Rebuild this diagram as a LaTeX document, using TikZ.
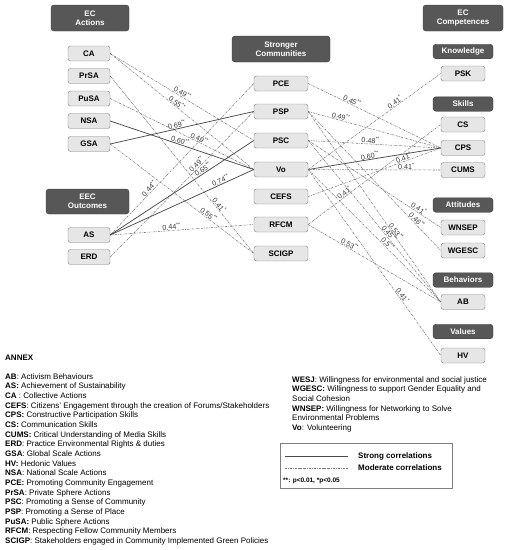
\documentclass[tikz,border=0pt]{standalone}
\usepackage{fontspec}
\setmainfont{Liberation Sans}
\definecolor{hdrfill}{HTML}{575757}
\definecolor{hdrline}{HTML}{3A3A3A}
\definecolor{varfill}{HTML}{E6E6E6}
\definecolor{varline}{HTML}{7F7F7F}
\definecolor{strongc}{HTML}{4A4A4A}
\definecolor{modc}{HTML}{7A7A7A}
\definecolor{lblc}{HTML}{3A3A3A}

\newcommand{\rr}[2]{#1\textsuperscript{#2}}

\tikzset{
  hdr/.style={draw=hdrline, fill=hdrfill, text=white, rounded corners=3pt, align=center,
    font=\fontsize{8}{9.3}\selectfont\bfseries, inner sep=1pt},
  var/.style={draw=varline, fill=varfill, rounded corners=2.5pt, minimum height=15pt,
    font=\fontsize{8}{9}\selectfont\bfseries, inner sep=1pt},
  strong/.style={draw=strongc, line width=0.75pt},
  moderate/.style={draw=modc, line width=0.55pt, dash pattern=on 2.2pt off 1pt on 0.6pt off 1pt},
  corr/.style={font=\fontsize{7.2}{8}\selectfont, text=lblc, sloped, above, inner sep=0.4pt},
}

\begin{document}
\begin{tikzpicture}[x=1pt, y=-1pt]
  \useasboundingbox (0,0) rectangle (508,550);

  % EC actions and EEC outcomes
  \node[hdr, minimum width=78pt, minimum height=26pt] (hdrA) at (90,18) {EC\\Actions};
  \node[var, minimum width=42pt] (CA) at (89,53.5) {CA};
  \node[var, minimum width=42pt] (PrSA) at (89,76) {PrSA};
  \node[var, minimum width=42pt] (PuSA) at (89,98.5) {PuSA};
  \node[var, minimum width=42pt] (NSA) at (89,121) {NSA};
  \node[var, minimum width=42pt] (GSA) at (89,144) {GSA};
  \node[hdr, minimum width=83pt, minimum height=25pt] (hdrB) at (87.5,201.5) {EEC\\Outcomes};
  \node[var, minimum width=42pt] (AS) at (89,235) {AS};
  \node[var, minimum width=42pt] (ERD) at (89,257) {ERD};

  % stronger communities
  \node[hdr, minimum width=98pt, minimum height=26pt] (hdrC) at (281,49) {Stronger\\Communities};
  \node[var, minimum width=54pt] (PCE) at (281,83.5) {PCE};
  \node[var, minimum width=54pt] (PSP) at (281,111.5) {PSP};
  \node[var, minimum width=54pt] (PSC) at (281,140.5) {PSC};
  \node[var, minimum width=54pt] (Vo) at (281,169.5) {Vo};
  \node[var, minimum width=54pt] (CEFS) at (281,196.5) {CEFS};
  \node[var, minimum width=54pt] (RFCM) at (281,224.5) {RFCM};
  \node[var, minimum width=54pt] (SCIGP) at (281,253.5) {SCIGP};

  % EC competences
  \node[hdr, minimum width=80pt, minimum height=26pt] (hdrD) at (463,18) {EC\\Competences};
  \node[hdr, minimum width=60pt, minimum height=14.5pt] (know) at (463,51.5) {Knowledge};
  \node[var, minimum width=44pt] (PSK) at (463,73.5) {PSK};
  \node[hdr, minimum width=60pt, minimum height=14.5pt] (skill) at (463,104) {Skills};
  \node[var, minimum width=44pt] (CS) at (463,124.5) {CS};
  \node[var, minimum width=44pt] (CPS) at (463,148) {CPS};
  \node[var, minimum width=44pt] (CUMS) at (463,170) {CUMS};
  \node[hdr, minimum width=60pt, minimum height=14.5pt] (att) at (463,205) {Attitudes};
  \node[var, minimum width=44pt] (WNSEP) at (463,227.5) {WNSEP};
  \node[var, minimum width=44pt] (WGESC) at (463,250.5) {WGESC};
  \node[hdr, minimum width=60pt, minimum height=14.5pt] (beh) at (463,280) {Behaviors};
  \node[var, minimum width=44pt] (AB) at (463,302) {AB};
  \node[hdr, minimum width=60pt, minimum height=14.5pt] (val) at (463,331.5) {Values};
  \node[var, minimum width=44pt] (HV) at (463,355.5) {HV};

  % left correlations
  \draw[moderate] (CA.east) -- (PSC.west) node[corr, pos=.49]{\rr{0.49}{**}};
  \draw[moderate] (CA.east) -- (Vo.west) node[corr, pos=.45]{\rr{0.55}{**}};
  \draw[moderate] (PrSA.east) -- (SCIGP.west) node[corr, pos=.74]{\rr{0.41}{*}};
  \draw[moderate] (PuSA.east) -- (Vo.west) node[corr, pos=.61]{\rr{0.49}{**}};
  \draw[strong] (NSA.east) -- (Vo.west) node[corr, pos=.48]{\rr{0.60}{**}};
  \draw[strong] (GSA.east) -- (PSP.west) node[corr, pos=.47]{\rr{0.69}{**}};
  \draw[moderate] (GSA.east) -- (SCIGP.west) node[corr, pos=.67]{\rr{0.55}{**}};
  \draw[moderate] (AS.east) -- (PCE.west) node[corr, pos=.29]{\rr{0.44}{**}};
  \draw[strong] (AS.east) -- (PSC.west) node[corr, pos=.66]{\rr{0.65}{**}};
  \draw[strong] (AS.east) -- (Vo.west) node[corr, pos=.78]{\rr{0.74}{**}};
  \draw[moderate] (AS.east) -- (RFCM.west) node[corr, pos=.43]{\rr{0.44}{**}};
  \draw[moderate] (ERD.east) -- (PSP.west) node[corr, pos=.62]{\rr{0.49}{**}};

  % right correlations
  \draw[moderate] (PCE.east) -- (CPS.west) node[corr, pos=.32]{\rr{0.45}{**}};
  \draw[moderate] (PSP.east) -- (CPS.west) node[corr, pos=.24]{\rr{0.49}{**}};
  \draw[moderate] (PSC.east) -- (CPS.west) node[corr, pos=.47]{\rr{0.48}{**}};
  \draw[strong] (Vo.east) -- (CPS.west) node[corr, pos=.47]{\rr{0.60}{**}};
  \draw[moderate] (Vo.east) -- (PSK.west) node[corr, pos=.67]{\rr{0.41}{*}};
  \draw[moderate] (Vo.east) -- (CUMS.west) node[corr, pos=.74]{\rr{0.41}{*}};
  \draw[moderate] (CEFS.east) -- (CPS.west) node[corr, pos=.73]{\rr{0.41}{*}};
  \draw[moderate] (RFCM.east) -- (CS.west) node[corr, pos=.29]{\rr{0.41}{*}};
  \draw[moderate] (PSC.east) -- (WNSEP.west) node[corr, pos=.82]{\rr{0.41}{*}};
  \draw[moderate] (PSP.east) -- (WGESC.west) node[corr, pos=.80]{\rr{0.46}{**}};
  \draw[moderate] (PSP.east) -- (AB.west) node[corr, pos=.64]{\rr{0.53}{**}};
  \draw[moderate] (PSC.east) -- (AB.west) node[corr, pos=.59]{\rr{0.45}{**}};
  \draw[moderate] (Vo.east) -- (AB.west) node[corr, pos=.58]{\rr{0.5}{**}};
  \draw[moderate] (RFCM.east) -- (AB.west) node[corr, pos=.30]{\rr{0.53}{**}};
  \draw[moderate] (Vo.east) -- (HV.west) node[corr, pos=.69]{\rr{0.41}{*}};

  % annex
  \node[anchor=west, inner sep=0pt, font=\fontsize{8}{9}\selectfont\bfseries] (annex) at (5,358) {ANNEX};
  \node[anchor=north west, align=left, inner sep=0pt, font=\fontsize{8}{9.67}\selectfont] (annexL) at (5,373) {%
    \textbf{AB}: Activism Behaviours\\
    \textbf{AS:} Achievement of Sustainability\\
    \textbf{CA} : Collective Actions\\
    \textbf{CEFS}: Citizens' Engagement through the creation of Forums/Stakeholders\\
    \textbf{CPS:} Constructive Participation Skills\\
    \textbf{CS:} Communication Skills\\
    \textbf{CUMS:} Critical Understanding of Media Skills\\
    \textbf{ERD}: Practice Environmental Rights \& duties\\
    \textbf{GSA}: Global Scale Actions\\
    \textbf{HV:} Hedonic Values\\
    \textbf{NSA}: National Scale Actions\\
    \textbf{PCE:} Promoting Community Engagement\\
    \textbf{PrSA}: Private Sphere Actions\\
    \textbf{PSC}: Promoting a Sense of Community\\
    \textbf{PSP}: Promoting a Sense of Place\\
    \textbf{PuSA:} Public Sphere Actions\\
    \textbf{RFCM}: Respecting Fellow Community Members\\
    \textbf{SCIGP}: Stakeholders engaged in Community Implemented Green Policies};
  \node[anchor=north west, align=left, inner sep=0pt, font=\fontsize{8}{9.67}\selectfont] (annexR) at (292,376) {%
    \textbf{WESJ}: Willingness for environmental and social justice\\
    \textbf{WGESC:} Willingness to support Gender Equality and\\
    Social Cohesion\\
    \textbf{WNSEP:} Willingness for Networking to Solve\\
    Environmental Problems\\
    \textbf{Vo}: Volunteering};

  % legend
  \draw[draw=varline, line width=0.6pt] (280,443) rectangle (452,488);
  \coordinate (st1) at (285,456);
  \coordinate (st2) at (348,456);
  \coordinate (mo1) at (285,468);
  \coordinate (mo2) at (348,468);
  \draw[strong, line width=0.6pt] (st1) -- (st2);
  \draw[moderate] (mo1) -- (mo2);
  \node[anchor=west, inner sep=0pt, font=\fontsize{8}{9}\selectfont\bfseries] (strongtxt) at (358,456) {Strong correlations};
  \node[anchor=west, inner sep=0pt, font=\fontsize{8}{9}\selectfont\bfseries] (modtxt) at (358,468) {Moderate correlations};
  \node[anchor=west, inner sep=0pt, font=\fontsize{6.5}{8}\selectfont\bfseries] (ptxt) at (283,481) {**: p<0.01, *p<0.05};
\end{tikzpicture}
\end{document}
